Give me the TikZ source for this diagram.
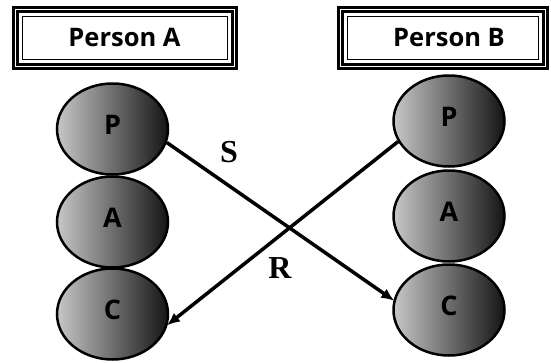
\documentclass[tikz,border=0pt]{standalone}
\usepackage{fontspec}
\usetikzlibrary{shapes.geometric,arrows.meta}
\newfontfamily\osans{Open Sans}
\newfontfamily\tms{Liberation Serif}
\begin{document}
\begin{tikzpicture}[x=1pt,y=-1pt,
  titlebox/.style={draw=black, line width=1pt, fill=white, inner sep=0pt,
    minimum height=43pt, font=\osans\bfseries\fontsize{25.5}{30}\selectfont},
  frameline/.style={draw=black, line width=3pt, double=white, double distance=1pt},
  ball/.style={ellipse, draw=black, line width=2.5pt, left color=black!22, right color=black!92,
    minimum width=111pt, minimum height=91pt, inner sep=0pt,
    font=\osans\bfseries\fontsize{27}{31}\selectfont, text height=20pt, text depth=10pt},
  msg/.style={line width=3.5pt, -{Latex[length=13pt,width=11pt]}, shorten >=-1pt},
  lbl/.style={font=\tms\bfseries\fontsize{32}{36}\selectfont, inner sep=0pt}
]
\useasboundingbox (0,0) rectangle (551,362);
% title boxes
\node[titlebox, minimum width=205pt] (ta) at (124.5,37.5) {Person A};
\draw[frameline] ([xshift=-6.5pt,yshift=-6.5pt]ta.south west) rectangle ([xshift=6.5pt,yshift=6.5pt]ta.north east);
\node[titlebox, minimum width=191pt] (tb) at (443,37.5) {\hspace*{12pt}Person B};
\draw[frameline] ([xshift=-6.5pt,yshift=-6.5pt]tb.south west) rectangle ([xshift=6.5pt,yshift=6.5pt]tb.north east);
% Person A balls
\node[ball] (lp) at (112.5,129) {P};
\node[ball] (la) at (112.5,222) {A};
\node[ball] (lc) at (112.5,314) {C};
% Person B balls
\node[ball] (rp) at (449,121) {P};
\node[ball] (ra) at (449,216) {A};
\node[ball] (rc) at (449,310) {C};
% messages
\draw[msg] (lp.-14) -- (rc.170);
\draw[msg] (rp.-158) -- (lc.-11);
\node[lbl] (s) at (229,152) {S};
\node[lbl] (r) at (280,268) {R};
\end{tikzpicture}
\end{document}
